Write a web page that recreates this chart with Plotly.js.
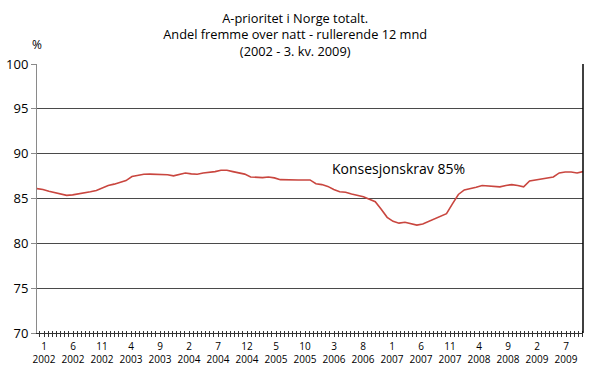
<!DOCTYPE html>
<html>
<head>
<meta charset="utf-8">
<script src="https://cdn.plot.ly/plotly-3.0.1.min.js"></script>
<style>html,body{margin:0;padding:0;background:#fff}#chart{width:600px;height:376px}</style>
</head>
<body>
<div id="chart"></div>
<script>
// Monthly values, Jan 2002 - Sep 2009 (rolling 12 months, %)
const monthIndex = Array.from({length: 93}, (_, i) => i);
const share = [
  86.1, 86.0, 85.8, 85.65, 85.5, 85.35, 85.4, 85.5, 85.6, 85.75, 85.9, 86.2,
  86.45, 86.6, 86.8, 87.0, 87.45, 87.6, 87.7, 87.72, 87.72, 87.72, 87.65, 87.52,
  87.7, 87.85, 87.75, 87.7, 87.85, 87.9, 88.0, 88.15, 88.15, 88.0, 87.85, 87.72,
  87.4, 87.33, 87.33, 87.4, 87.3, 87.1, 87.07, 87.07, 87.07, 87.07, 87.07, 86.65,
  86.55, 86.35, 86.0, 85.75, 85.7, 85.5, 85.35, 85.2, 84.92, 84.65, 83.8, 82.9,
  82.45, 82.25, 82.35, 82.2, 82.03, 82.15, 82.43, 82.7, 83.05, 83.3, 84.4, 85.45,
  85.95, 86.08, 86.25, 86.45, 86.38, 86.35, 86.3, 86.45, 86.55, 86.45, 86.3, 86.95,
  87.05, 87.2, 87.3, 87.4, 87.85, 87.95, 87.95, 87.85, 88.0
];
const tickMonths = [0, 5, 10, 15, 20, 25, 30, 35, 40, 45, 50, 55, 60, 65, 70, 75, 80, 85, 90];
const tickLabels = ["1<br>2002", "6<br>2002", "11<br>2002", "4<br>2003", "9<br>2003", "2<br>2004",
  "7<br>2004", "12<br>2004", "5<br>2005", "10<br>2005", "3<br>2006", "8<br>2006", "1<br>2007",
  "6<br>2007", "11<br>2007", "4<br>2008", "9<br>2008", "2<br>2009", "7<br>2009"];
const yTicks = [70, 75, 80, 85, 90, 95, 100];

const FONT = "Open Sans, sans-serif";
const labelRange = [-1.207, 92.93];

const data = [{
  x: monthIndex, y: share, type: "scatter", mode: "lines",
  line: {color: "#c9463f", width: 1.6},
  hoverinfo: "skip", showlegend: false
}];

const layout = {
  width: 600, height: 376,
  margin: {l: 37, r: 17, t: 64, b: 43},
  paper_bgcolor: "#fff", plot_bgcolor: "#fff",
  font: {family: FONT, color: "#000"},
  showlegend: false,
  title: {
    text: "A-prioritet i Norge totalt.<br>Andel fremme over natt - rullerende 12 mnd<br>(2002 - 3. kv. 2009)",
    font: {family: FONT, size: 12.8, color: "#000"},
    xref: "container", yref: "container",
    x: 0.492, xanchor: "center", y: 0.94, yanchor: "top"
  },
  xaxis: {
    range: [0, 92], showgrid: false, zeroline: false,
    showline: true, linecolor: "#333", linewidth: 1,
    ticks: "", showticklabels: false, fixedrange: true
  },
  xaxis2: {
    overlaying: "x", anchor: "free", position: 0.0112, side: "bottom", range: labelRange,
    showgrid: false, zeroline: false, showline: false,
    tickmode: "array", tickvals: tickMonths, ticktext: tickLabels,
    ticks: "outside", ticklen: 6, tickcolor: "#333", tickwidth: 1,
    minor: {ticks: "outside", ticklen: 6, dtick: 5/7, tick0: 0, tickcolor: "#333", tickwidth: 1},
    tickfont: {family: FONT, size: 10, color: "#000"},
    ticklabelstandoff: 1
  },
  yaxis: {
    range: [70, 100], tickmode: "array", tickvals: yTicks,
    showgrid: true, gridcolor: "#4a4a4a", gridwidth: 1,
    zeroline: false, showline: true, linecolor: "#8a8a8a", linewidth: 1,
    ticks: "outside", ticklen: 5, tickcolor: "#8a8a8a",
    tickfont: {family: FONT, size: 13, color: "#000"},
    fixedrange: true
  },
  shapes: [{
    type: "line", xref: "paper", yref: "paper", x0: 1, x1: 1, y0: 0, y1: 1,
    line: {color: "#000", width: 1.5}
  }],
  annotations: [
    {text: "%", xref: "paper", yref: "paper", x: 0, y: 1.074, xanchor: "center", yanchor: "middle",
     showarrow: false, font: {family: FONT, size: 12, color: "#000"}},
    {text: "Konsesjonskrav 85%", xref: "x2", yref: "y", x: 49.3, y: 88.35, xanchor: "left", yanchor: "middle",
     showarrow: false, font: {family: FONT, size: 14, color: "#000"}}
  ]
};

Plotly.newPlot("chart", data, layout, {displayModeBar: false, staticPlot: true});
</script>
</body>
</html>
